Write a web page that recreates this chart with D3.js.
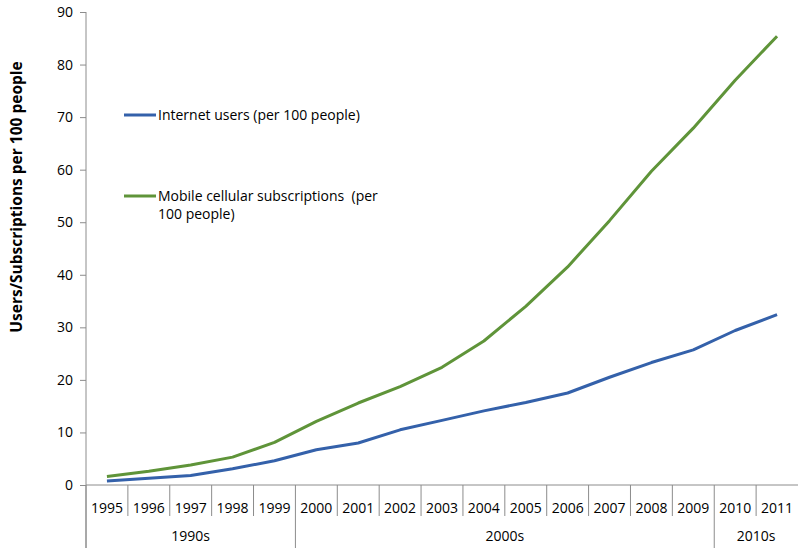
<!DOCTYPE html>
<html><head><meta charset="utf-8">
<script src="https://cdn.jsdelivr.net/npm/d3@7"></script>
<style>body{margin:0;background:#fff}svg{display:block}text{font-family:"Open Sans",sans-serif;fill:#000}</style>
</head><body><svg id="c" width="799" height="550"></svg>
<script>
const years = ["1995","1996","1997","1998","1999","2000","2001","2002","2003","2004","2005","2006","2007","2008","2009","2010","2011"];
const internetUsers = [0.78,1.3,1.8,3.1,4.6,6.7,8.0,10.5,12.3,14.1,15.7,17.5,20.5,23.3,25.7,29.4,32.4];
const mobileSubs = [1.6,2.6,3.8,5.3,8.1,12.1,15.6,18.7,22.4,27.4,34.0,41.5,50.3,59.7,67.9,77.0,85.4];
const decades = [{label:"1990s",from:"1995",to:"1999"},{label:"2000s",from:"2000",to:"2009"},{label:"2010s",from:"2010",to:"2011"}];
const yTicks = [0,10,20,30,40,50,60,70,80,90];
const seriesNames = ["Internet users (per 100 people)","Mobile cellular subscriptions  (per|100 people)"];

const svg = d3.select("#c");
const axisColor = "#8c8c8c";
const colors = ["#3461aa","#5f9439"];
const x = d3.scaleBand().domain(years).range([86,798]);
const y = d3.scaleLinear().domain([0,90]).range([485,12]);
const fam = "'Open Sans',sans-serif";
const fs = "14px";

// y axis
const ya = svg.append("g").attr("transform","translate(86,0)")
  .call(d3.axisLeft(y).tickValues(yTicks).tickSize(6).tickPadding(7));
ya.select(".domain").attr("stroke",axisColor).attr("d","M0,12V548");
ya.selectAll(".tick line").attr("stroke",axisColor);
ya.selectAll(".tick text").attr("font-size",fs).attr("font-family",fam).attr("fill","#000");

// x axis
const xa = svg.append("g").attr("transform","translate(0,485)");
xa.append("line").attr("x1",86).attr("x2",798).attr("y1",0).attr("y2",0).attr("stroke",axisColor);
const longSeps = decades.map(d=>x(d.from));
years.forEach((yr,i)=>{
  const xs = x(yr);
  if(i>0 && !longSeps.includes(xs)){
    xa.append("line").attr("x1",xs).attr("x2",xs).attr("y1",0).attr("y2",31).attr("stroke",axisColor);
  }
  xa.append("text").attr("x",xs+x.bandwidth()/2).attr("y",28).attr("text-anchor","middle")
    .attr("font-size",fs).text(yr);
});
longSeps.forEach(xs=>{
  xa.append("line").attr("x1",xs).attr("x2",xs).attr("y1",0).attr("y2",63).attr("stroke",axisColor);
});
decades.forEach(d=>{
  const cx = (x(d.from)+x(d.to)+x.bandwidth())/2;
  xa.append("text").attr("x",cx).attr("y",56).attr("text-anchor","middle").attr("font-size",fs).text(d.label);
});

// lines
const line = d3.line().x((d,i)=>x(years[i])+x.bandwidth()/2).y(d=>y(d));
[internetUsers,mobileSubs].forEach((s,k)=>{
  svg.append("path").datum(s).attr("d",line).attr("fill","none").attr("stroke",colors[k])
    .attr("stroke-width",3).attr("stroke-linejoin","round");
});

// legend
const legY = [115,196];
seriesNames.forEach((n,k)=>{
  svg.append("line").attr("x1",124).attr("x2",156).attr("y1",legY[k]).attr("y2",legY[k])
    .attr("stroke",colors[k]).attr("stroke-width",3);
  n.split("|").forEach((p,j)=>{
    svg.append("text").attr("x",158).attr("y",legY[k]+5+j*18).attr("font-size",fs)
      .attr("xml:space","preserve").text(p);
  });
});

// y label
svg.append("text").attr("transform","translate(22,197) rotate(-90)").attr("text-anchor","middle")
  .attr("font-size","15.5px").attr("font-weight","bold").text("Users/Subscriptions per 100 people");
</script></body></html>
